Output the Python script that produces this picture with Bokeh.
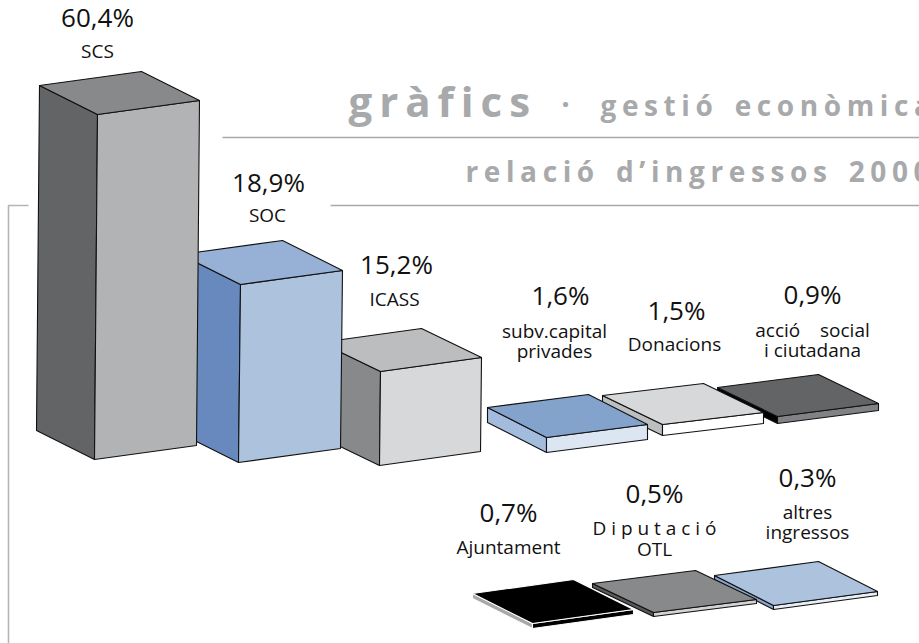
import numpy as np
from bokeh.plotting import figure
from bokeh.models import Range1d
from bokeh.core.properties import value
from bokeh.embed import file_html
from bokeh.resources import INLINE

# ---- data ----
categories = ["SCS", "SOC", "ICASS", "subv.capital privades", "Donacions", "acció social i ciutadana",
              "Ajuntament", "Diputació OTL", "altres ingressos"]
shares = [60.4, 18.9, 15.2, 1.6, 1.5, 0.9, 0.7, 0.5, 0.3]
share_labels = ["60,4%", "18,9%", "15,2%", "1,6%", "1,5%", "0,9%", "0,7%", "0,5%", "0,3%"]
name_lines = [["SCS"], ["SOC"], ["ICASS"], ["subv.capital", "privades"], ["Donacions"],
              ["acció\u00a0\u00a0\u00a0\u00a0social", "i ciutadana"], ["Ajuntament"], ["D i p u t a c i ó", "OTL"],
              ["altres", "ingressos"]]

# ---- the drawing's own (non linear) value-to-height scale ----
scale_values = [0.3, 0.5, 0.7, 0.9, 1.5, 1.6, 15.2, 18.9, 60.4]
scale_heights = [4, 4, 5, 7, 11, 15, 94, 178, 345]

# ---- layout, in page pixels ----
front_top = [(97, 114), (240, 284), (380, 371), (546, 437), (662, 424), (777, 416), (532, 623), (653, 612), (773, 605)]
right_vec = [(102, -14), (102, -14), (101, -14), (101, -13), (101, -12), (101, -13), (101, -14), (103, -13), (104, -14)]
depth_vec = [(-58, -29), (-60, -30), (-60, -29), (-59, -30), (-60, -29), (-60, -29), (-60, -30), (-61, -29), (-59, -30)]
lean = [-3, -2, -1, 0, 0, 0, 0, 0, 0]
order = [8, 7, 6, 5, 4, 3, 2, 1, 0]

top_col = ["#88898b", "#97b0d6", "#bcbdbf", "#83a3cc", "#d7d8da", "#636466", "#000000", "#88898b", "#adc2dd"]
left_col = ["#636466", "#6889bd", "#88898b", "#a3bcdd", "#bcbec0", "#000000", "#a7a9ab", "#58595b", "#88a3cc"]
front_col = ["#b1b3b5", "#adc2dd", "#d7d8da", "#dce6f3", "#ffffff", "#808285", "#000000", "#d1d3d4", "#e8eef6"]
edge_col = ["#111111"] * 6 + ["#ffffff"] + ["#111111"] * 2

pct_xy = [(97, 27), (268, 192), (396, 274), (560, 305), (676, 320), (812, 304), (508, 522), (654, 503), (807, 487)]
name_xy = [[(97, 58)], [(267, 222)], [(394, 306)], [(554, 338), (554, 358)], [(674, 351)],
           [(812, 337), (812, 357)], [(508, 554)], [(654, 535), (654, 556)], [(807, 519), (807, 539)]]

GREY = "#a7a9ab"
FONT = "Open Sans"
LIFT = 0.4  # the rendered baseline sits this many ems below the requested y


def spaced(s, gap="\u200a\u200a"):
    return gap.join(s)


def put(xs, ys, texts, size, color="#111111", align="center", style="normal"):
    p.text(xs, ys, text=texts, text_font=value(FONT), text_font_size=f"{size}px", text_font_style=style,
           text_color=color, text_align=align, text_baseline="alphabetic", y_offset=-LIFT * size)


p = figure(width=919, height=643, x_range=Range1d(0, 919), y_range=Range1d(643, 0),
           output_backend="svg", toolbar_location=None, min_border=0,
           background_fill_color="white", border_fill_color="white", outline_line_color=None)
p.axis.visible = False
p.grid.visible = False

# rules and frame
p.line([8, 8, 28], [643, 205, 205], line_color="#b3b5b7", line_width=1.6)
p.line([222, 919], [137, 137], line_color=GREY, line_width=1.6)
p.line([330, 919], [205, 205], line_color=GREY, line_width=1.6)

heights = np.interp(shares, scale_values, scale_heights)
for i in order:
    fx, fy = front_top[i]
    rx, ry = right_vec[i]
    dx, dy = depth_vec[i]
    h = heights[i]
    l = lean[i]
    top = ([fx, fx + rx, fx + rx + dx, fx + dx], [fy, fy + ry, fy + ry + dy, fy + dy])
    front = ([fx, fx + rx, fx + rx + l, fx + l], [fy, fy + ry, fy + ry + h, fy + h])
    left = ([fx, fx + dx, fx + dx + l, fx + l], [fy, fy + dy, fy + dy + h, fy + h])
    for (xs, ys), col in ((left, left_col[i]), (front, front_col[i]), (top, top_col[i])):
        p.patch(xs, ys, fill_color=col, line_color=edge_col[i], line_width=1.1, line_join="round")

# share labels
put([c[0] for c in pct_xy], [c[1] for c in pct_xy], share_labels, 26)

# category labels
nx, ny, nt = [], [], []
for lines, xy in zip(name_lines, name_xy):
    for t, c in zip(lines, xy):
        nx.append(c[0]); ny.append(c[1]); nt.append(t)
put(nx, ny, nt, 19)

# headings
put([348], [117], [spaced("gràfics", "\u2009")], 42, GREY, "left", "bold")
put([565], [115], ["·"], 30, GREY, "center", "bold")
put([600], [116], [spaced("gestió") + "\u00a0\u00a0\u00a0" + spaced("econòmica")], 28, GREY, "left", "bold")
put([465], [182], [spaced("relació") + "\u00a0\u00a0\u00a0" + spaced("d’ingressos") + "\u00a0\u00a0\u00a0" + spaced("2000")],
    28, GREY, "left", "bold")

open("out.html", "w").write(file_html(p, INLINE))
